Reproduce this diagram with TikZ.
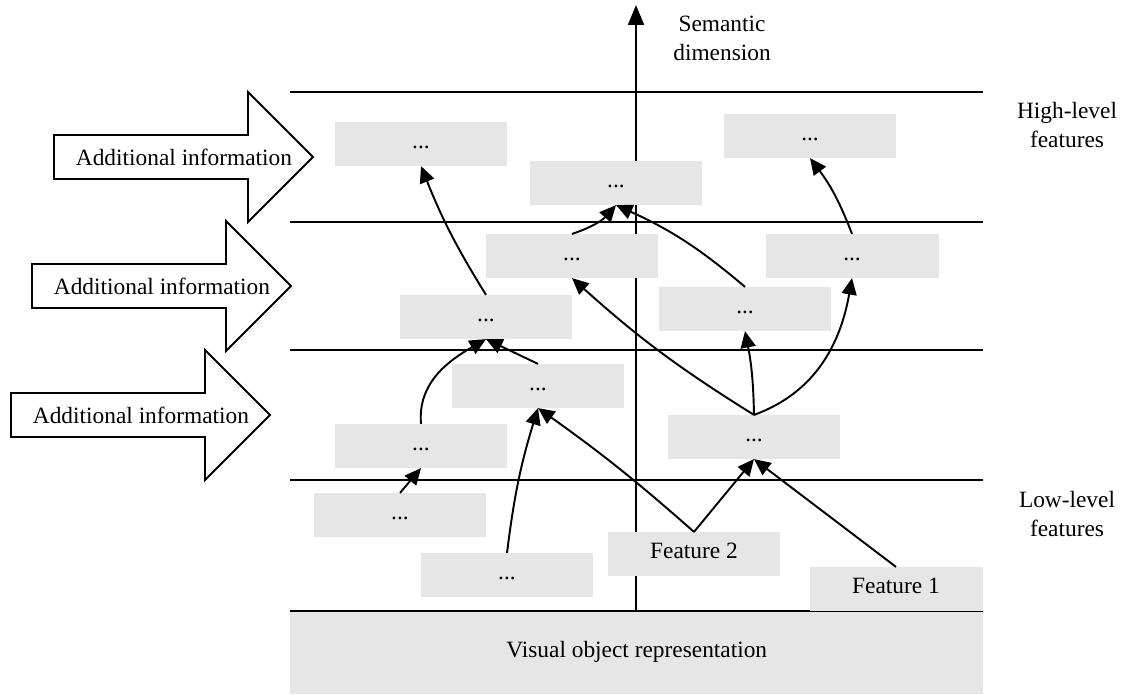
\documentclass[tikz,border=0pt]{standalone}
\usepackage{fontspec}
\setmainfont{Liberation Serif}
\usetikzlibrary{arrows.meta}
\definecolor{boxgray}{HTML}{E6E6E6}

\begin{document}
\begin{tikzpicture}[x=0.02cm, y=0.02cm,
    every node/.style={font=\fontsize{13.3}{16.5}\selectfont},
    box/.style={fill=boxgray, minimum width=3.46cm, minimum height=0.87cm, text height=0.7em, text depth=0.2em},
    link/.style={-{Triangle[length=3.3mm,width=3mm]}, line width=1.1pt},
    level/.style={line width=0.8pt}]
    \useasboundingbox (0,0) rectangle (1121,694);

    % base and level lines
    \node[fill=boxgray, minimum width=13.86cm, minimum height=1.66cm, anchor=south west] (base) at (290,0) {Visual object representation};
    \foreach \y in {602,472,344,214}
        \draw[level] (290,\y) -- (983,\y);
    \draw[line width=1.4pt] (290,83) -- (983,83);
    \coordinate (axisbot) at (636,83);
    \coordinate (axistop) at (636,689);
    \draw[-{Triangle[length=4mm,width=3.2mm]}, line width=1.1pt] (axisbot) -- (axistop);

    % side labels
    \node[align=center] (semantic) at (722,656) {Semantic\\dimension};
    \node[align=center] (high) at (1067,569) {High-level\\features};
    \node[align=center] (low) at (1067,180) {Low-level\\features};

    % additional information arrows
    \foreach \l/\m/\n in {54/537/1, 32/408/2, 11/279/3} {
        \draw[line width=1.1pt, fill=white] (\l,\m+22) -- (\l+194,\m+22) -- (\l+194,\m+65) -- (\l+259,\m)
            -- (\l+194,\m-65) -- (\l+194,\m-22) -- (\l,\m-22) -- cycle;
        \node (info\n) at (\l+130,\m) {Additional information};
    }

    % feature boxes
    \node[box] (h1) at (421,550) {...};
    \node[box] (h2) at (616,511) {...};
    \node[box] (h3) at (810,558) {...};
    \node[box] (m1) at (572,438) {...};
    \node[box] (m2) at (852,438) {...};
    \node[box] (m3) at (486,377) {...};
    \node[box] (m4) at (745,385) {...};
    \node[box] (l1) at (538,308) {...};
    \node[box] (l2) at (421,248) {...};
    \node[box] (l3) at (754,257) {...};
    \node[box] (b1) at (400,179) {...};
    \node[box] (b2) at (507,119) {...};
    \node[box] (feat2) at (694,140) {Feature 2};
    \node[box] (feat1) at (896,105) {Feature 1};

    % links
    \draw[link] (m3.north) to[bend left=5] (h1.south);
    \draw[link] (m1.north) to[bend right=15] (h2.south);
    \draw[link] (m4.north) to[bend right=8] (h2.south);
    \draw[link] (m2.north) to[bend right=8] (h3.south);
    \draw[link] (l3.north) to[bend right=5] (m4.south);
    \draw[link] (l3.north) to[bend left=5] (m1.south);
    \draw[link] (l3.north) to[out=20, in=-100] (m2.south);
    \draw[link] (feat2.north) -- (l3.south);
    \draw[link] (feat1.north) -- (l3.south);
    \draw[link] (feat2.north) to[bend right=3] (l1.south);
    \draw[link] (b2.north) to[bend left=5] (l1.south);
    \draw[link] (b1.north) -- (l2.south);
    \draw[link] (l2.north) to[out=95, in=-150] (m3.south);
    \draw[link] (l1.north) -- (m3.south);
\end{tikzpicture}
\end{document}
